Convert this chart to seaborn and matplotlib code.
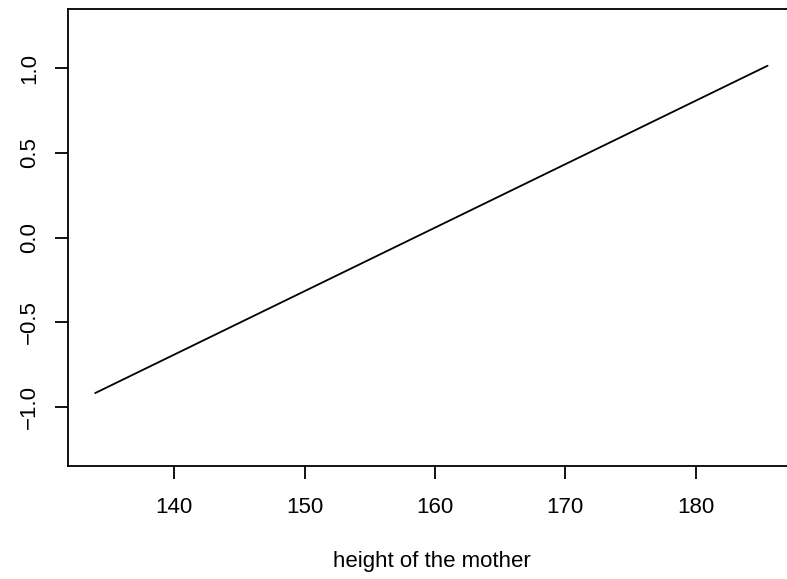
import matplotlib
matplotlib.use("Agg")
import matplotlib.pyplot as plt
import seaborn as sns
import pandas as pd

# Data
mother_height = [133.94, 185.51]
effect = [-0.9175, 1.015]
x_ticks = [140, 150, 160, 170, 180]
y_ticks = [-1.0, -0.5, 0.0, 0.5, 1.0]
x_label = "height of the mother"

sns.set_style("white")
plt.rcParams['font.family'] = ['Liberation Sans', 'DejaVu Sans']

df = pd.DataFrame({"x": mother_height, "y": effect})

fig = plt.figure(figsize=(7.87, 5.79), dpi=100)
ax = fig.add_axes([68.3 / 787, (579 - 466) / 579, (794.5 - 68.3) / 787, (466 - 9.3) / 579])

sns.lineplot(data=df, x="x", y="y", ax=ax, color="black", linewidth=1.3)

xr = max(mother_height) - min(mother_height)
ax.set_xlim(min(mother_height) - 0.04 * xr, max(mother_height) + 0.04 * xr)
ax.set_ylim(-1.348, 1.348)

ax.set_xticks(x_ticks)
ax.set_xticklabels([str(t) for t in x_ticks])
ax.set_yticks(y_ticks)
ax.set_yticklabels([f"{t:.1f}".replace("-", "\u2212") for t in y_ticks],
                   rotation=90, va="center")

for s in ax.spines.values():
    s.set_color("black")
    s.set_linewidth(1.3)

ax.tick_params(axis="both", which="major", bottom=True, left=True,
               direction="out", length=9.5, width=1.3,
               color="black", labelsize=16, labelcolor="black")
ax.tick_params(axis="x", pad=13)
ax.tick_params(axis="y", pad=11)

ax.set_ylabel("")
ax.set_xlabel("")
fig.text(431.4 / 787, 1 - 562 / 579, x_label, ha="center", va="center",
         fontsize=16, color="black")

fig.savefig("out.png", dpi=100, facecolor="white")
